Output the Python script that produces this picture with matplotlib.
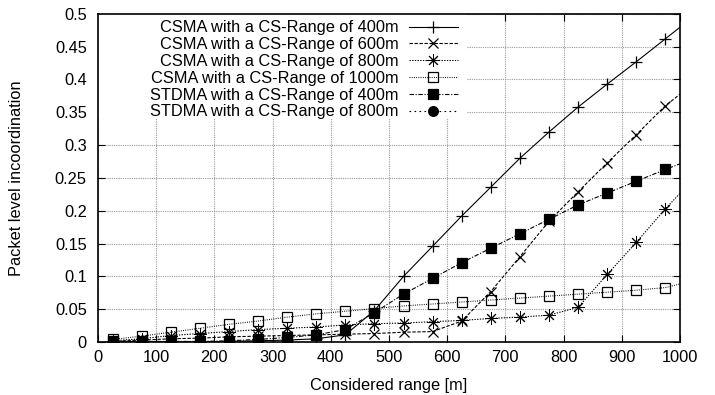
import matplotlib
matplotlib.use("Agg")
import matplotlib.pyplot as plt
from matplotlib.patches import Rectangle

plt.rcParams['font.family'] = ['Liberation Sans', 'DejaVu Sans']
plt.rcParams['font.size'] = 11.8

# distancia considerada [m] (el ultimo punto queda fuera del eje, como en gnuplot)
rango = [25, 75, 125, 175, 225, 275, 325, 375, 425, 475,
         525, 575, 625, 675, 725, 775, 825, 875, 925, 975, 1025]

csma_400 = [0.0, 0.0, 0.0, 0.0, 0.001, 0.002, 0.003, 0.005, 0.011, 0.048,
            0.100, 0.146, 0.192, 0.236, 0.280, 0.320, 0.358, 0.393, 0.427, 0.462, 0.497]
csma_600 = [0.001, 0.003, 0.005, 0.006, 0.008, 0.009, 0.010, 0.011, 0.012, 0.013,
            0.015, 0.016, 0.032, 0.077, 0.130, 0.184, 0.229, 0.273, 0.316, 0.360, 0.395]
csma_800 = [0.002, 0.005, 0.010, 0.013, 0.016, 0.019, 0.021, 0.023, 0.026, 0.028,
            0.029, 0.031, 0.033, 0.036, 0.038, 0.041, 0.053, 0.103, 0.152, 0.203, 0.25]
csma_1000 = [0.004, 0.009, 0.015, 0.021, 0.027, 0.032, 0.038, 0.043, 0.047, 0.051,
             0.055, 0.058, 0.061, 0.064, 0.067, 0.070, 0.073, 0.076, 0.079, 0.083, 0.094]
stdma_400 = [0.001, 0.001, 0.001, 0.001, 0.002, 0.004, 0.007, 0.011, 0.019, 0.045,
             0.073, 0.097, 0.121, 0.143, 0.165, 0.187, 0.209, 0.227, 0.245, 0.263, 0.28]
rango_800 = [25, 75, 125, 175, 225]
stdma_800 = [0.001, 0.001, 0.001, 0.001, 0.001]

etiquetas = ["CSMA with a CS-Range of 400m", "CSMA with a CS-Range of 600m",
             "CSMA with a CS-Range of 800m", "CSMA with a CS-Range of 1000m",
             "STDMA with a CS-Range of 400m", "STDMA with a CS-Range of 800m"]

fig = plt.figure(figsize=(7.15, 3.95), dpi=100)
ax = fig.add_axes([0.137, 0.134, 0.814, 0.831])

k = dict(color='black', lw=0.8, mew=0.9, clip_on=True)
ax.plot(rango, csma_400, marker='+', ms=9, ls='-', label=etiquetas[0], **k)
ax.plot(rango, csma_600, marker='x', ms=7, dashes=(3, 1.5), label=etiquetas[1], **k)
ax.plot(rango, csma_800, marker=(8, 2, 0), ms=9, mew=0.7, dashes=(1.2, 1.2),
        label=etiquetas[2], **{a: b for a, b in k.items() if a != 'mew'})
ax.plot(rango, csma_1000, marker='s', ms=7, mfc='none', dashes=(0.8, 1.2), label=etiquetas[3], **k)
ax.plot(rango, stdma_400, marker='s', ms=7.5, dashes=(4, 1.5, 1, 1.5), label=etiquetas[4], **k)
ax.plot(rango_800, stdma_800, marker='o', ms=7, dashes=(1.5, 3), label=etiquetas[5], **k)

ax.set_xlim(0, 1000)
ax.set_ylim(0, 0.5)
ax.set_xticks(range(0, 1001, 100))
ax.set_yticks([i * 0.05 for i in range(11)])
ax.set_yticklabels(['%g' % round(i * 0.05, 2) for i in range(11)])
ax.tick_params(direction='in', top=True, right=True, length=5, width=0.8)
ax.tick_params(axis='x', pad=6)
ax.tick_params(axis='y', pad=8)
ax.grid(True, color='0.6', ls=(0, (1, 1)), lw=0.8)
ax.set_axisbelow(True)
for s in ax.spines.values():
    s.set_linewidth(1.2)

ax.set_xlabel('Considered range [m]', labelpad=9)
ax.set_ylabel('Packet level incoordination', labelpad=22)

# caja blanca de la leyenda (tapa la rejilla, estilo gnuplot)
ax.add_patch(Rectangle((0, 0.683), 0.634, 0.317, transform=ax.transAxes,
                       facecolor='white', edgecolor='none', zorder=1.5))
leg = ax.legend(loc='upper left', bbox_to_anchor=(0.07, 1.015), markerfirst=False,
                frameon=False, labelspacing=0.11, handlelength=3.0, handletextpad=0.6,
                borderpad=0.2)

fig.savefig('out.png', dpi=100)
